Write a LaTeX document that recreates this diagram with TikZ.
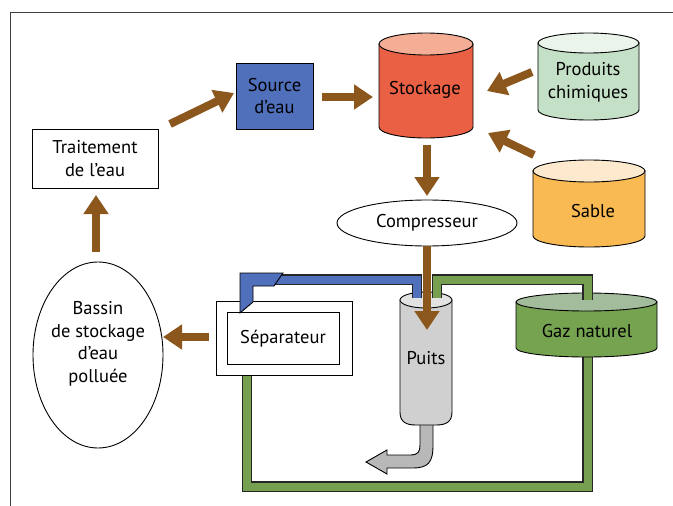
\documentclass[tikz,border=0pt]{standalone}
\usepackage{fontspec}
\setmainfont{PT Sans}
\usetikzlibrary{arrows.meta,shapes.geometric}
\definecolor{brn}{RGB}{139,87,28}
\definecolor{srcblue}{RGB}{80,112,188}
\definecolor{pipegreen}{RGB}{118,160,80}
\definecolor{stockred}{RGB}{234,96,68}
\definecolor{stocktop}{RGB}{245,174,150}
\definecolor{chemgreen}{RGB}{196,224,198}
\definecolor{chemtop}{RGB}{234,244,235}
\definecolor{sandor}{RGB}{249,185,83}
\definecolor{sandtop}{RGB}{253,233,206}
\definecolor{gasgreen}{RGB}{118,163,80}
\definecolor{gastop}{RGB}{162,188,156}
\definecolor{wellgray}{RGB}{208,208,208}
\definecolor{welltop}{RGB}{226,226,226}
\definecolor{arrgray}{RGB}{184,184,184}
\newcommand\mycyl[7]{%
 \pgfmathsetmacro\myrx{(#2-#1)/2}%
 \pgfmathsetmacro\mycx{(#1+#2)/2}%
 \draw[outl,fill=#6] (#1,#3) -- (#1,#4) arc[start angle=180,end angle=0,x radius=\myrx,y radius=#5] -- (#2,#3) -- cycle;
 \draw[outl,fill=#7] (\mycx,#3) ellipse[x radius=\myrx,y radius=#5];
}
\tikzset{
 outl/.style={draw=black,line width=0.9pt},
 lbl/.style={font=\fontsize{18.5}{22.5}\selectfont,align=center,inner sep=0pt},
 arr/.style={draw=brn,line width=8pt,-{Triangle[length=19pt,width=24pt]}},
 pipeout/.style={draw=black!85,line width=10.5pt,line join=miter},
}
\begin{document}
\begin{tikzpicture}[x=1pt,y=-1pt]
\useasboundingbox (0,0) rectangle (673,506);
% frame
\draw[black!75,line width=0.9pt] (10,506) -- (10,12) -- (673,12);

% green loop (bottom)
\draw[pipeout] (247,370) -- (247,486.5) -- (587.5,486.5) -- (587.5,350);
\draw[pipegreen,line width=8pt] (247,370) -- (247,486.5) -- (587.5,486.5) -- (587.5,350);

% gray outflow arrow
\draw[outl,fill=arrgray] (433,415) -- (433,445) .. controls (433,463) and (428,468) .. (412,468)
  -- (387,468) -- (387,474) -- (366,462) -- (387,450) -- (387,455) -- (410,455)
  .. controls (418,455) and (420,452) .. (420,445) -- (420,415) -- cycle;

% well
\draw[outl,fill=wellgray] (400,300) -- (400,412) .. controls (400,422) and (406,425) .. (416,425)
  -- (436,425) .. controls (446,425) and (452,422) .. (452,412) -- (452,300) -- cycle;
\draw[outl,fill=welltop] (426,300) ellipse[x radius=26,y radius=8];

% cylinders
\mycyl{379}{473}{44}{127}{11}{stockred}{stocktop}
\mycyl{538}{639}{43}{110}{10}{chemgreen}{chemtop}
\mycyl{533}{645}{171}{236}{11}{sandor}{sandtop}
\mycyl{516}{657}{302}{348}{9}{gasgreen}{gastop}

% boxes
\node[outl,fill=white,minimum width=126pt,minimum height=59pt,lbl] (trait) at (95,158.5) {Traitement\\de l’eau};
\node[outl,fill=srcblue,minimum width=77pt,minimum height=66pt,lbl] (src) at (274.5,96) {Source\\d’eau};
\node[outl,ellipse,fill=white,minimum width=130pt,minimum height=186pt,inner sep=0pt] (bassin) at (98,355) {};
\node[outl,ellipse,fill=white,minimum width=180pt,minimum height=46pt,inner sep=0pt] (comp) at (427,223) {};
\node[outl,fill=white,minimum width=136pt,minimum height=74pt] (sepout) at (284,338) {};
\node[outl,fill=white,minimum width=112pt,minimum height=52pt] (sepin) at (283,338) {};

% green top pipe
\draw[pipeout] (437,298) -- (437,279.5) -- (587.5,279.5) -- (587.5,300);
\draw[pipegreen,line width=8pt] (437,298) -- (437,279.5) -- (587.5,279.5) -- (587.5,300);
% blue pipe
\draw[pipeout] (417,298) -- (417,279.5) -- (275,279.5);
\draw[srcblue,line width=8pt] (417,298) -- (417,279.5) -- (275,279.5);
\draw[outl,fill=srcblue] (240,273) -- (283,273) -- (274,286) -- (253,286) -- (253,302) -- (240,313) -- cycle;

% arrow end points
\coordinate (a1s) at (170,124); \coordinate (a1e) at (234,93);
\coordinate (a2s) at (322,97);  \coordinate (a2e) at (373,97);
\coordinate (a3s) at (532,72);  \coordinate (a3e) at (487,91);
\coordinate (a4s) at (534,155); \coordinate (a4e) at (488,133);
\coordinate (a5s) at (427,145); \coordinate (a5e) at (427,196);
\coordinate (a6s) at (427,246); \coordinate (a6e) at (427,330);
\coordinate (a7s) at (209,337); \coordinate (a7e) at (163,337);
\coordinate (a8s) at (96,252);  \coordinate (a8e) at (96,195);
\draw[arr] (a1s) -- (a1e);
\draw[arr] (a2s) -- (a2e);
\draw[arr] (a3s) -- (a3e);
\draw[arr] (a4s) -- (a4e);
\draw[arr] (a5s) -- (a5e);
\draw[arr] (a6s) -- (a6e);
\draw[arr] (a7s) -- (a7e);
\draw[arr] (a8s) -- (a8e);

% labels
\node[lbl] (stock) at (425,90) {Stockage};
\node[lbl] (chem) at (588,82.5) {Produits\\chimiques};
\node[lbl] (sand) at (593,211) {Sable};
\node[lbl] (comptxt) at (427,223) {Compresseur};
\node[lbl] (well) at (426,358) {Puits};
\node[lbl] (gas) at (587,331) {Gaz naturel};
\node[lbl] (sep) at (283,339) {Séparateur};
\node[lbl] (basstxt) at (98,344) {Bassin\\de stockage\\d’eau\\polluée};
\end{tikzpicture}
\end{document}
